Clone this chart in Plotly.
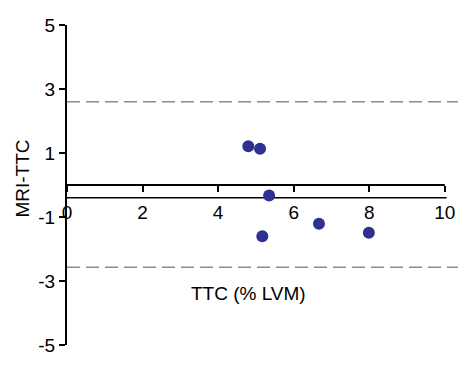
import plotly.graph_objects as go

# Data
ttc = [4.80, 5.11, 5.35, 5.17, 6.67, 7.99]
diff = [1.21, 1.13, -0.33, -1.60, -1.21, -1.49]
upper_loa = 2.60
lower_loa = -2.57
x_ticks = [0, 2, 4, 6, 8, 10]
y_ticks = [-5, -3, -1, 1, 3, 5]

FONT = "Liberation Sans, Arial, Helvetica, sans-serif"
FS = 19

fig = go.Figure()
fig.add_trace(go.Scatter(
    x=ttc, y=diff, mode="markers",
    marker=dict(size=12, color="#2e3192"),
    showlegend=False, cliponaxis=False, hoverinfo="skip",
))

shapes = [
    # limits of agreement
    dict(type="line", xref="x", yref="y", x0=0, x1=10.35, y0=upper_loa, y1=upper_loa,
         line=dict(color="#8c8c8c", width=1.5, dash="13px,6px"), layer="below"),
    dict(type="line", xref="x", yref="y", x0=0, x1=10.35, y0=lower_loa, y1=lower_loa,
         line=dict(color="#8c8c8c", width=1.5, dash="13px,6px"), layer="below"),
    # zero line
    dict(type="line", xref="x", yref="y", x0=0, x1=10, y0=0, y1=0,
         line=dict(color="black", width=2), layer="below"),
    # lower axis line
    dict(type="line", xref="x", yref="y", x0=0, x1=10.05, y0=-0.40, y1=-0.40,
         line=dict(color="black", width=1.5), layer="below"),
]

fig.update_layout(
    width=471, height=369,
    margin=dict(l=67, r=13, t=25, b=24, autoexpand=False),
    paper_bgcolor="white", plot_bgcolor="white",
    font=dict(family=FONT, size=FS, color="black"),
    shapes=shapes,
    hovermode=False,
    xaxis=dict(
        range=[0, 10.35], tickvals=x_ticks, ticktext=[str(v) for v in x_ticks],
        showgrid=False, zeroline=False, showline=False,
        ticks="outside", ticklen=6, tickwidth=1.5, tickcolor="black",
        anchor="free", position=0.5, ticklabelstandoff=4,
        tickfont=dict(family=FONT, size=FS),
    ),
    yaxis=dict(
        range=[-5, 5], tickvals=y_ticks, ticktext=[str(v) for v in y_ticks],
        showgrid=False, zeroline=False, showline=True, linecolor="black", linewidth=2,
        ticks="outside", ticklen=6, tickwidth=1.5, tickcolor="black",
        tickfont=dict(family=FONT, size=FS),
    ),
    annotations=[
        dict(text="MRI-TTC", xref="paper", yref="paper", x=-0.1125, y=0.52,
             textangle=-90, showarrow=False, font=dict(family=FONT, size=FS),
             xanchor="center", yanchor="middle"),
        dict(text="TTC (% LVM)", xref="x", yref="y", x=4.8, y=-3.4,
             showarrow=False, font=dict(family=FONT, size=FS),
             xanchor="center", yanchor="middle"),
    ],
)

fig.write_html("out.html", config={"displayModeBar": False},
               post_script="document.body.style.margin='0';")
